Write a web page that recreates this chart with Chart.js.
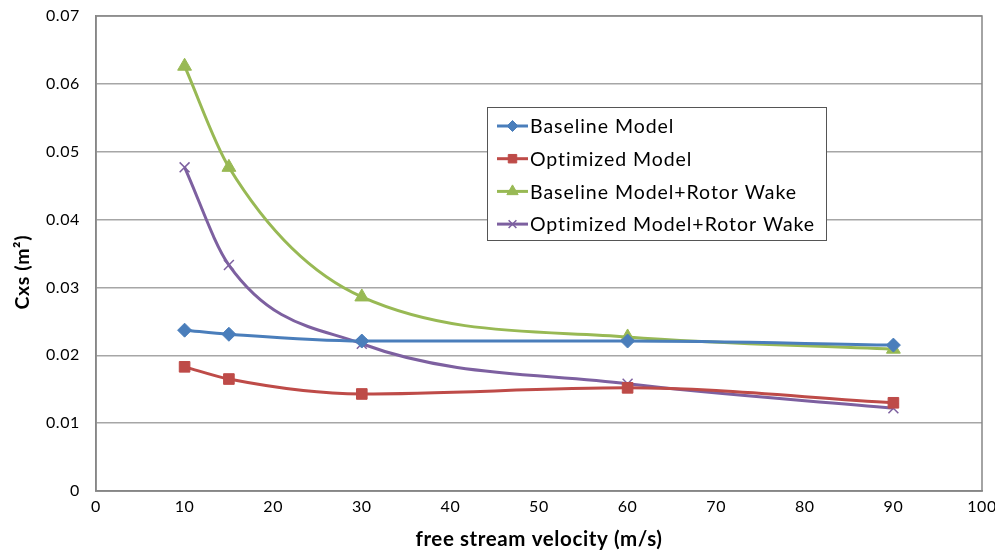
<!DOCTYPE html>
<html>
<head>
<meta charset="utf-8">
<script src="https://cdn.jsdelivr.net/npm/chart.js@4/dist/chart.umd.min.js"></script>
<style>
  html, body { margin: 0; padding: 0; background: #fff; }
  #wrap { width: 995px; height: 552px; }
</style>
</head>
<body>
<div id="wrap"><canvas id="grafico" width="995" height="552"></canvas></div>
<script>
// velocidades (m/s)
const velocidades = [10, 15, 30, 60, 90];

// Cxs (m²) por modelo
const baselineModel = [0.0237, 0.0231, 0.0221, 0.0221, 0.0215];
const optimizedModel = [0.0183, 0.0165, 0.0143, 0.0152, 0.0130];
const baselineRotorWake = [0.0626, 0.0477, 0.0286, 0.0227, 0.0209];
const optimizedRotorWake = [0.0477, 0.0333, 0.0217, 0.0158, 0.0122];

const nombres = ['Baseline Model', 'Optimized Model', 'Baseline Model+Rotor Wake', 'Optimized Model+Rotor Wake'];

const xTicks = [0, 10, 20, 30, 40, 50, 60, 70, 80, 90, 100];
const yTicks = [0, 0.01, 0.02, 0.03, 0.04, 0.05, 0.06, 0.07];

const fuente = 'Lato, "Open Sans", sans-serif';

function serie(label, valores, color, estilo, radio) {
    return {
        label: label,
        data: velocidades.map((v, i) => ({ x: v, y: valores[i] })),
        borderColor: color,
        backgroundColor: color,
        borderWidth: 3,
        pointStyle: estilo,
        pointRadius: radio,
        pointBorderWidth: estilo === 'crossRot' ? 1.5 : 1,
        pointBorderColor: color,
        tension: 0.4,
        cubicInterpolationMode: 'monotone',
        fill: false
    };
}

// espaciado de letras un poco más ancho (como en el original)
const espaciado = {
    id: 'espaciado',
    beforeDraw(chart) { chart.ctx.letterSpacing = '0.6px'; }
};

// leyenda dentro del área del gráfico
const leyendaInterna = {
    id: 'leyendaInterna',
    afterDraw(chart) {
        const ctx = chart.ctx;
        const x0 = 487, y0 = 107, w = 339, h = 133;
        ctx.save();
        ctx.fillStyle = '#fff';
        ctx.fillRect(x0, y0, w, h);
        ctx.strokeStyle = '#555';
        ctx.lineWidth = 1;
        ctx.strokeRect(x0 + 0.5, y0 + 0.5, w, h);
        ctx.font = '19.5px ' + fuente;
        ctx.letterSpacing = '0.95px';
        ctx.textBaseline = 'middle';
        chart.data.datasets.forEach((ds, i) => {
            const y = 126 + i * 32.7;
            ctx.strokeStyle = ds.borderColor;
            ctx.lineWidth = 3;
            ctx.beginPath();
            ctx.moveTo(497, y);
            ctx.lineTo(528, y);
            ctx.stroke();
            ctx.fillStyle = ds.borderColor;
            ctx.lineWidth = ds.pointBorderWidth;
            Chart.helpers.drawPoint(ctx, { pointStyle: ds.pointStyle, radius: ds.pointRadius - 1.5, rotation: 0, borderWidth: ds.pointBorderWidth }, 512.5, y);
            ctx.fillStyle = '#000';
            ctx.fillText(ds.label, 530, y + 1);
        });
        ctx.restore();
    }
};

// borde del área de trazado
const bordeArea = {
    id: 'bordeArea',
    beforeDatasetsDraw(chart) {
        const a = chart.chartArea;
        const ctx = chart.ctx;
        ctx.save();
        ctx.strokeStyle = '#868686';
        ctx.lineWidth = 1.5;
        ctx.strokeRect(a.left, a.top, a.right - a.left, a.bottom - a.top);
        ctx.restore();
    }
};

const ctx = document.getElementById('grafico').getContext('2d');
new Chart(ctx, {
    type: 'line',
    data: {
        datasets: [
            serie(nombres[0], baselineModel, '#4a7ebb', 'rectRot', 7),
            serie(nombres[1], optimizedModel, '#be4b48', 'rect', 7.5),
            serie(nombres[2], baselineRotorWake, '#98b954', 'triangle', 8),
            serie(nombres[3], optimizedRotorWake, '#7d60a0', 'crossRot', 7)
        ]
    },
    options: {
        responsive: false,
        animation: false,
        layout: { padding: { top: 16, right: 13, left: 0, bottom: 0 } },
        scales: {
            x: {
                type: 'linear',
                min: 0,
                max: 100,
                afterBuildTicks: s => { s.ticks = xTicks.map(v => ({ value: v })); },
                afterFit: s => { s.height = 61; s.paddingLeft = 0; s.paddingRight = 0; },
                grid: { display: false, drawTicks: false },
                border: { color: '#868686', width: 1.5 },
                ticks: { color: '#000', font: { family: fuente, size: 16 }, padding: 6, maxRotation: 0 },
                title: { display: true, text: 'free stream velocity (m/s)', color: '#000', font: { family: fuente, size: 20.5, weight: 'bold' }, padding: { top: 10, bottom: 0 } }
            },
            y: {
                min: 0,
                max: 0.07,
                afterBuildTicks: s => { s.ticks = yTicks.map(v => ({ value: v })); },
                afterFit: s => { s.width = 96; s.paddingTop = 0; s.paddingBottom = 0; },
                grid: { color: '#a6a6a6', lineWidth: 1.5, drawTicks: false },
                border: { color: '#868686', width: 1.5 },
                ticks: { color: '#000', font: { family: fuente, size: 16 }, padding: 16, callback: v => String(+v.toFixed(2)) },
                title: { display: true, text: 'Cxs (m²)       ', color: '#000', font: { family: fuente, size: 19.5, weight: 'bold' }, padding: { bottom: 0, top: 11 } }
            }
        },
        plugins: {
            legend: { display: false },
            tooltip: { enabled: false }
        }
    },
    plugins: [espaciado, bordeArea, leyendaInterna]
});
</script>
</body>
</html>
